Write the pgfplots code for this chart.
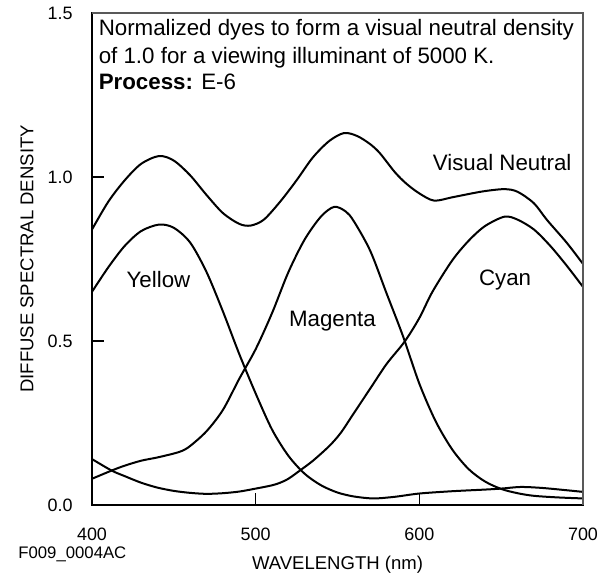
\documentclass[border=0pt]{standalone}
\usepackage{pgfplots}
\pgfplotsset{compat=1.18}
\usepackage{fontspec}
\setmainfont{Liberation Sans}

\pgfplotstableread{
x y
400 0.650
410 0.725
420 0.790
430 0.835
441 0.855
450 0.845
460 0.800
470 0.710
480 0.590
490 0.460
500 0.340
510 0.230
520 0.150
530 0.095
540 0.060
550 0.038
560 0.026
572 0.020
585 0.025
600 0.035
620 0.042
640 0.047
650 0.050
662 0.055
675 0.052
690 0.045
700 0.040
}\dataY

\pgfplotstableread{
x y
400 0.080
412 0.105
420 0.120
430 0.135
440 0.145
450 0.157
455 0.165
460 0.180
470 0.225
480 0.290
490 0.385
500 0.475
510 0.585
520 0.710
530 0.810
540 0.880
548 0.909
555 0.895
560 0.865
570 0.775
580 0.645
590 0.515
600 0.370
610 0.255
620 0.170
630 0.110
640 0.072
650 0.049
660 0.036
670 0.028
685 0.023
700 0.020
}\dataM

\pgfplotstableread{
x y
400 0.140
412 0.105
420 0.088
430 0.068
440 0.053
450 0.043
460 0.037
470 0.034
480 0.036
490 0.041
500 0.050
510 0.060
515 0.068
520 0.080
527 0.105
535 0.135
545 0.180
552 0.220
560 0.280
570 0.355
580 0.430
591 0.498
600 0.570
608 0.650
620 0.745
630 0.805
640 0.850
652 0.879
660 0.870
670 0.840
680 0.790
690 0.730
700 0.665
}\dataC

\pgfplotstableread{
x y
400 0.840
410 0.925
420 0.990
430 1.040
441 1.064
450 1.050
460 1.005
470 0.945
480 0.890
490 0.857
497 0.852
505 0.870
515 0.925
525 0.990
535 1.060
545 1.110
554 1.134
562 1.125
570 1.100
576 1.072
585 1.015
592 0.980
600 0.950
609 0.928
620 0.938
630 0.948
640 0.957
652 0.963
660 0.955
670 0.920
678 0.869
690 0.800
700 0.735
}\dataN

\begin{document}
\fontsize{9}{11}\selectfont
\begin{tikzpicture}
\useasboundingbox (-46bp,-35bp) rectangle (261bp,252.5bp);
\begin{axis}[
  at={(0,0)}, anchor=south west,
  scale only axis, width=245.5bp, height=246bp,
  xmin=400, xmax=700, ymin=0, ymax=1.5,
  clip=false,
  xtick={400,500,600,700}, ytick={0,0.5,1.0,1.5},
  yticklabels={0.0,0.5,1.0,1.5},
  tick pos=left, tick align=inside, major tick length=6bp,
  tick style={black, line width=0.6bp},
  axis line style={black, line width=0.65bp},
  /pgf/number format/assume math mode=true,
  yticklabel style={anchor=east, inner sep=0pt, xshift=-9.5bp, font=\fontsize{9}{11}\selectfont},
  xticklabel style={anchor=base, inner sep=0pt, yshift=-17.5bp, font=\fontsize{9}{11}\selectfont},
  dye/.style={black, line width=1bp, smooth, mark=none},
]
\addplot[dye] table[x=x,y=y] {\dataY};
\addplot[dye] table[x=x,y=y] {\dataM};
\addplot[dye] table[x=x,y=y] {\dataC};
\addplot[dye] table[x=x,y=y] {\dataN};

\draw[black!65, line width=1bp] (rel axis cs:0,1) -- (rel axis cs:1,1) -- (rel axis cs:1,0);

\begin{scope}[every node/.style={font=\fontsize{11.2}{13}\selectfont}]
\node[anchor=center] at (axis cs:650.6,1.043) {Visual Neutral};
\node[anchor=center] at (axis cs:652.4,0.686) {Cyan};
\node[anchor=center] at (axis cs:440.6,0.686) {Yellow};
\node[anchor=center] at (axis cs:546.9,0.562) {Magenta};

\node[anchor=base west, inner sep=0pt] at ([xshift=3.2bp, yshift=-11.5bp]rel axis cs:0,1) {Normalized dyes to form a visual neutral density};
\node[anchor=base west, inner sep=0pt] at ([xshift=3.2bp, yshift=-25.2bp]rel axis cs:0,1) {of 1.0 for a viewing illuminant of 5000 K.};
\node[anchor=base west, inner sep=0pt] at ([xshift=3.2bp, yshift=-38.5bp]rel axis cs:0,1) {\textbf{Process:} E-6};
\end{scope}

\node[anchor=base, inner sep=0pt, font=\fontsize{9.3}{11}\selectfont] at ([yshift=-32bp]rel axis cs:0.5,0) {WAVELENGTH (nm)};
\node[anchor=base, inner sep=0pt, rotate=90, font=\fontsize{9.3}{11}\selectfont] at ([xshift=-29.3bp]rel axis cs:0,0.5) {DIFFUSE SPECTRAL DENSITY};
\node[anchor=base west, inner sep=0pt, font=\fontsize{8.4}{10}\selectfont] at ([xshift=-37bp, yshift=-26.5bp]rel axis cs:0,0) {F009\_0004AC};
\end{axis}
\end{tikzpicture}
\end{document}
